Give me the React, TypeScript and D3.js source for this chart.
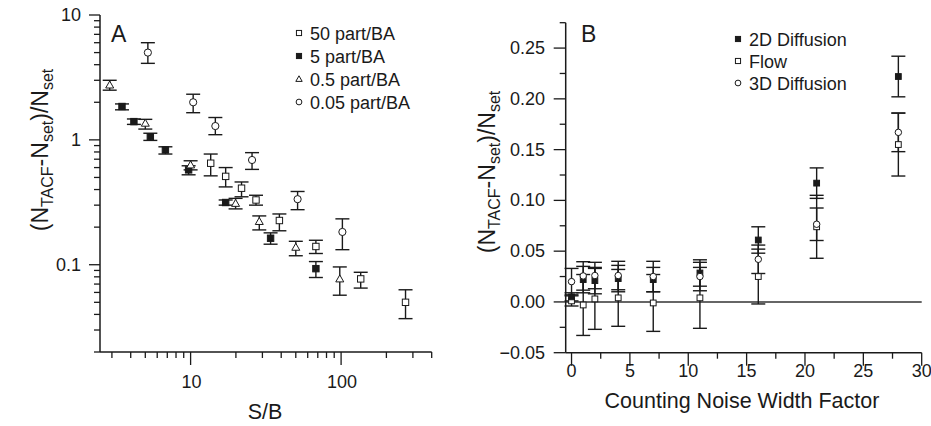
import React from "react";
import * as d3 from "d3";

// ---------- Panel A data (S/B vs relative error) ----------
const seriesA = ["50 part/BA", "5 part/BA", "0.5 part/BA", "0.05 part/BA"];

const a50X = [13.6, 17.1, 21.8, 27.2, 38.9, 68, 135, 268];
const a50Y = [0.65, 0.51, 0.41, 0.33, 0.226, 0.14, 0.077, 0.05];
const a50Hi = [0.77, 0.6, 0.46, 0.36, 0.255, 0.157, 0.087, 0.063];
const a50Lo = [0.515, 0.42, 0.35, 0.3, 0.187, 0.123, 0.065, 0.037];

const a5X = [3.5, 4.2, 5.4, 6.8, 9.7, 17.1, 34, 68];
const a5Y = [1.85, 1.4, 1.06, 0.83, 0.575, 0.315, 0.163, 0.093];
const a5Hi = [1.94, 1.47, 1.13, 0.88, 0.62, 0.33, 0.18, 0.106];
const a5Lo = [1.74, 1.33, 0.99, 0.77, 0.525, 0.3, 0.146, 0.079];

const a05X = [2.9, 5.0, 10, 19.9, 28.6, 50, 98];
const a05Y = [2.75, 1.36, 0.63, 0.31, 0.222, 0.138, 0.077];
const a05Hi = [3.0, 1.46, 0.68, 0.34, 0.246, 0.154, 0.096];
const a05Lo = [2.5, 1.22, 0.575, 0.28, 0.19, 0.118, 0.057];

const a005X = [5.2, 10.4, 14.6, 25.6, 51.4, 102];
const a005Y = [5.0, 2.0, 1.29, 0.69, 0.335, 0.183];
const a005Hi = [6.0, 2.32, 1.51, 0.79, 0.386, 0.233];
const a005Lo = [4.1, 1.65, 1.1, 0.58, 0.276, 0.132];

const aXMajor = [10, 100];
const aXMinor = [3, 4, 5, 6, 7, 8, 9, 20, 30, 40, 50, 60, 70, 80, 90, 200, 300, 400];
const aYMajor = [0.1, 1, 10];
const aYMinor = [0.02, 0.03, 0.04, 0.05, 0.06, 0.07, 0.08, 0.09, 0.2, 0.3, 0.4, 0.5, 0.6, 0.7, 0.8, 0.9, 2, 3, 4, 5, 6, 7, 8, 9];

// ---------- Panel B data (noise width factor) ----------
const seriesB = ["2D Diffusion", "Flow", "3D Diffusion"];
const bX = [0, 1, 2, 4, 7, 11, 16, 21, 28];
const b2dY = [0.005, 0.022, 0.021, 0.023, 0.022, 0.0285, 0.061, 0.117, 0.222];
const b2dErr = [0.004, 0.013, 0.013, 0.013, 0.012, 0.013, 0.013, 0.015, 0.02];
const bFlowY = [0.001, -0.003, 0.003, 0.004, -0.001, 0.004, 0.025, 0.074, 0.155];
const bFlowErr = [0.005, 0.03, 0.03, 0.028, 0.028, 0.03, 0.027, 0.031, 0.031];
const b3dY = [0.02, 0.0256, 0.026, 0.026, 0.025, 0.025, 0.042, 0.0765, 0.167];
const b3dErr = [0.013, 0.014, 0.013, 0.014, 0.015, 0.014, 0.014, 0.016, 0.019];

const bXMajor = [0, 5, 10, 15, 20, 25, 30];
const bXMinor = [2.5, 7.5, 12.5, 17.5, 22.5, 27.5];
const bYMajor = [-0.05, 0, 0.05, 0.1, 0.15, 0.2, 0.25];
const bYMinor = [-0.025, 0.025, 0.075, 0.125, 0.175, 0.225, 0.275];

const FONT = "'Liberation Sans', Arial, Helvetica, sans-serif";
const INK = "#1a1a1a";

type Shape = "square" | "filled" | "triangle" | "circle";

function Marker({ shape, x, y, s = 1 }: { shape: Shape; x: number; y: number; s?: number }) {
  const h = 3.2 * s;
  if (shape === "square" || shape === "filled") {
    return (
      <rect x={x - h} y={y - h} width={2 * h} height={2 * h}
        fill={shape === "filled" ? INK : "#fff"} stroke={INK} strokeWidth={1} />
    );
  }
  if (shape === "triangle") {
    const t = 4 * s;
    return (
      <path d={`M${x},${y - t} L${x + t},${y + t * 0.75} L${x - t},${y + t * 0.75} Z`}
        fill="#fff" stroke={INK} strokeWidth={1} />
    );
  }
  return <circle cx={x} cy={y} r={3.6 * s} fill="#fff" stroke={INK} strokeWidth={1} />;
}

function ErrBar({ x, y1, y2, cap = 7 }: { x: number; y1: number; y2: number; cap?: number }) {
  return (
    <g stroke={INK} strokeWidth={1.4}>
      <line x1={x} x2={x} y1={y1} y2={y2} />
      <line x1={x - cap} x2={x + cap} y1={y1} y2={y1} />
      <line x1={x - cap} x2={x + cap} y1={y2} y2={y2} />
    </g>
  );
}

function YTitle({ x, y }: { x: number; y: number }) {
  return (
    <text transform={`translate(${x},${y}) rotate(-90)`} textAnchor="middle"
      fontSize={23} fontFamily={FONT} fill={INK}>
      (N<tspan fontSize={16} dy={5}>TACF</tspan>
      <tspan dy={-5}>-N</tspan>
      <tspan fontSize={16} dy={5}>set</tspan>
      <tspan dy={-5}>)/N</tspan>
      <tspan fontSize={16} dy={5}>set</tspan>
    </text>
  );
}

export default function App() {
  // Panel A scales
  const xA = d3.scaleLog().domain([2.5, 400]).range([100, 431.7]);
  const yA = d3.scaleLog().domain([0.02, 10]).range([352, 15]);
  // Panel B scales
  const xB = d3.scaleLinear().domain([-0.5, 30]).range([565.7, 921.7]);
  const yB = d3.scaleLinear().domain([-0.05, 0.275]).range([352.7, 22.7]);

  const fmtA = (v: number) => String(v);
  const fmtB = d3.format(".2f");

  const groupsA: { shape: Shape; xs: number[]; ys: number[]; hi: number[]; lo: number[] }[] = [
    { shape: "square", xs: a50X, ys: a50Y, hi: a50Hi, lo: a50Lo },
    { shape: "filled", xs: a5X, ys: a5Y, hi: a5Hi, lo: a5Lo },
    { shape: "triangle", xs: a05X, ys: a05Y, hi: a05Hi, lo: a05Lo },
    { shape: "circle", xs: a005X, ys: a005Y, hi: a005Hi, lo: a005Lo },
  ];
  const legendShapesA: Shape[] = ["square", "filled", "triangle", "circle"];

  const groupsB: { shape: Shape; ys: number[]; err: number[] }[] = [
    { shape: "square", ys: bFlowY, err: bFlowErr },
    { shape: "filled", ys: b2dY, err: b2dErr },
    { shape: "circle", ys: b3dY, err: b3dErr },
  ];
  const legendShapesB: Shape[] = ["filled", "square", "circle"];

  const [xa0, xa1] = xA.range();
  const [ya0, ya1] = yA.range();
  const [xb0, xb1] = xB.range();
  const [yb0, yb1] = yB.range();

  return (
    <svg width={931} height={426} style={{ position: "absolute", left: 0, top: 0, background: "#fff" }}
      fontFamily={FONT}>
      <rect width={931} height={426} fill="#fff" />

      {/* ================= Panel A ================= */}
      <g>
        <line x1={xa0} x2={xa0} y1={ya0} y2={ya1} stroke={INK} strokeWidth={1.5} />
        <line x1={xa0} x2={xa1} y1={ya0} y2={ya0} stroke={INK} strokeWidth={1.5} />
        {aYMinor.map((v) => (
          <line key={"aym" + v} x1={xa0 - 6} x2={xa0} y1={yA(v)} y2={yA(v)} stroke={INK} strokeWidth={1.3} />
        ))}
        {aYMajor.map((v) => (
          <g key={"ayM" + v}>
            <line x1={xa0 - 11} x2={xa0} y1={yA(v)} y2={yA(v)} stroke={INK} strokeWidth={1.3} />
            <text x={81} y={yA(v) + 6} textAnchor="end" fontSize={18} fill={INK}>{fmtA(v)}</text>
          </g>
        ))}
        {aXMinor.map((v) => (
          <line key={"axm" + v} x1={xA(v)} x2={xA(v)} y1={ya0} y2={ya0 + 6} stroke={INK} strokeWidth={1.3} />
        ))}
        {aXMajor.map((v) => (
          <g key={"axM" + v}>
            <line x1={xA(v)} x2={xA(v)} y1={ya0} y2={ya0 + 13} stroke={INK} strokeWidth={1.3} />
            <text x={xA(v) + 1} y={388} textAnchor="middle" fontSize={18} fill={INK}>{v}</text>
          </g>
        ))}
        <text x={265} y={419} textAnchor="middle" fontSize={21.5} fill={INK}>S/B</text>
        <YTitle x={48} y={150} />
        <text x={111} y={42} fontSize={23} fill={INK}>A</text>

        {groupsA.map((g, gi) =>
          g.xs.map((xv, i) => (
            <ErrBar key={`ae${gi}-${i}`} x={xA(xv)} y1={yA(g.hi[i])} y2={yA(g.lo[i])} />
          ))
        )}
        {groupsA.map((g, gi) =>
          g.xs.map((xv, i) => <Marker key={`am${gi}-${i}`} shape={g.shape} x={xA(xv)} y={yA(g.ys[i])} />)
        )}

        {seriesA.map((name, i) => (
          <g key={"al" + name}>
            <Marker shape={legendShapesA[i]} x={299} y={33 + i * 23} s={0.8} />
            <text x={310} y={39.5 + i * 23} fontSize={18} fill={INK}>{name}</text>
          </g>
        ))}
      </g>

      {/* ================= Panel B ================= */}
      <g>
        <line x1={xb0} x2={xb0} y1={yb0} y2={yb1} stroke={INK} strokeWidth={1.5} />
        <line x1={xb0} x2={xb1} y1={yb0} y2={yb0} stroke={INK} strokeWidth={1.5} />
        <line x1={xb0} x2={xb1} y1={yB(0)} y2={yB(0)} stroke="#333" strokeWidth={1.4} />
        {bYMinor.map((v) => (
          <line key={"bym" + v} x1={xb0 - 6} x2={xb0} y1={yB(v)} y2={yB(v)} stroke={INK} strokeWidth={1.3} />
        ))}
        {bYMajor.map((v) => (
          <g key={"byM" + v}>
            <line x1={xb0 - 12} x2={xb0} y1={yB(v)} y2={yB(v)} stroke={INK} strokeWidth={1.3} />
            <text x={545} y={yB(v) + 6} textAnchor="end" fontSize={18} fill={INK}>{fmtB(v)}</text>
          </g>
        ))}
        {bXMinor.map((v) => (
          <line key={"bxm" + v} x1={xB(v)} x2={xB(v)} y1={yb0} y2={yb0 + 6} stroke={INK} strokeWidth={1.3} />
        ))}
        {bXMajor.map((v) => (
          <g key={"bxM" + v}>
            <line x1={xB(v)} x2={xB(v)} y1={yb0} y2={yb0 + 13} stroke={INK} strokeWidth={1.3} />
            <text x={xB(v)} y={377} textAnchor="middle" fontSize={18} fill={INK}>{v}</text>
          </g>
        ))}
        <text x={742} y={408} textAnchor="middle" fontSize={21.5} fill={INK}>Counting Noise Width Factor</text>
        <YTitle x={495} y={172} />
        <text x={581} y={42} fontSize={23} fill={INK}>B</text>

        {groupsB.map((g, gi) =>
          bX.map((xv, i) => (
            <ErrBar key={`be${gi}-${i}`} x={xB(xv)} y1={yB(g.ys[i] + g.err[i])} y2={yB(g.ys[i] - g.err[i])} />
          ))
        )}
        {groupsB.map((g, gi) =>
          bX.map((xv, i) => <Marker key={`bm${gi}-${i}`} shape={g.shape} x={xB(xv)} y={yB(g.ys[i])} s={0.9} />)
        )}

        {seriesB.map((name, i) => (
          <g key={"bl" + name}>
            <Marker shape={legendShapesB[i]} x={738} y={39 + i * 22} s={0.8} />
            <text x={749} y={45.5 + i * 22} fontSize={18} fill={INK}>{name}</text>
          </g>
        ))}
      </g>
    </svg>
  );
}
